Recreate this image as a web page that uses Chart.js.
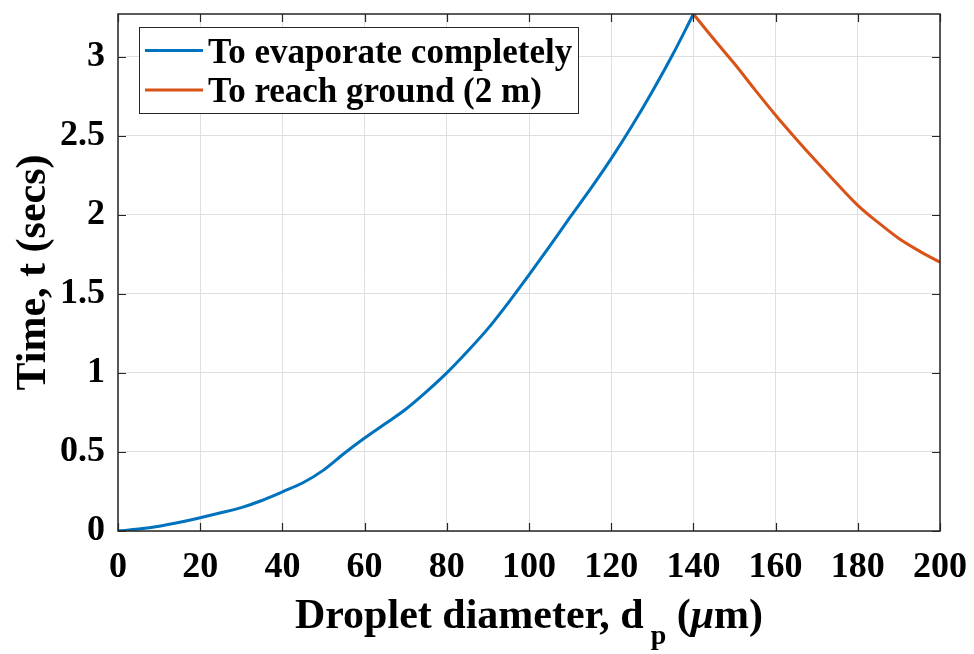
<!DOCTYPE html>
<html>
<head>
<meta charset="utf-8">
<script src="https://cdn.jsdelivr.net/npm/chart.js@4"></script>
<style>
  html, body { margin: 0; padding: 0; background: #fff; }
  #wrap { width: 974px; height: 654px; }
</style>
</head>
<body>
<div id="wrap"><canvas id="timeChart" width="974" height="654"></canvas></div>
<script>
// droplet diameter (um) and times (s)
const evapDiam = [0, 5, 10, 15, 20, 25, 30, 35, 40, 45, 50, 55, 60, 65, 70, 75, 80, 85, 90, 95, 100, 105, 110, 115, 120, 125, 130, 135, 140];
const evapTime = [0, 0.012, 0.03, 0.055, 0.084, 0.115, 0.148, 0.193, 0.248, 0.305, 0.385, 0.49, 0.588, 0.678, 0.77, 0.88, 1.0, 1.135, 1.28, 1.445, 1.62, 1.80, 1.985, 2.165, 2.355, 2.56, 2.78, 3.015, 3.27];
const groundDiam = [140, 145, 150, 155, 160, 165, 170, 175, 180, 185, 190, 195, 200];
const groundTime = [3.27, 3.11, 2.955, 2.79, 2.63, 2.48, 2.335, 2.195, 2.06, 1.95, 1.85, 1.77, 1.70];
const xTicks = [0, 20, 40, 60, 80, 100, 120, 140, 160, 180, 200];
const yTicks = [0, 0.5, 1, 1.5, 2, 2.5, 3];

const SERIF = '"Liberation Serif", "Times New Roman", serif';
const AXIS_COLOR = '#262626';

function toPoints(xs, ys) {
    return xs.map((x, i) => ({ x: x, y: ys[i] }));
}

// Box, inward ticks, custom axis titles and the in-plot legend (MATLAB look)
const matlabFrame = {
    id: 'matlabFrame',
    afterDraw(chart) {
        const ctx = chart.ctx;
        const a = chart.chartArea;
        const xs = chart.scales.x, ys = chart.scales.y;
        ctx.save();
        ctx.strokeStyle = AXIS_COLOR;
        ctx.lineWidth = 1.5;
        ctx.strokeRect(a.left, a.top, a.right - a.left, a.bottom - a.top);

        const tl = 8;
        ctx.beginPath();
        xTicks.forEach(v => {
            const px = Math.round(xs.getPixelForValue(v)) + 0.5;
            ctx.moveTo(px, a.bottom); ctx.lineTo(px, a.bottom - tl);
            ctx.moveTo(px, a.top); ctx.lineTo(px, a.top + tl);
        });
        yTicks.forEach(v => {
            const py = Math.round(ys.getPixelForValue(v)) + 0.5;
            ctx.moveTo(a.left, py); ctx.lineTo(a.left + tl, py);
            ctx.moveTo(a.right, py); ctx.lineTo(a.right - tl, py);
        });
        ctx.lineWidth = 1.2;
        ctx.stroke();

        // x title with subscript p and italic mu
        ctx.fillStyle = '#000';
        ctx.textBaseline = 'alphabetic';
        const big = 'bold 42px ' + SERIF, small = 'bold 28px ' + SERIF, ital = 'italic bold 42px ' + SERIF;
        const parts = [
            { t: 'Droplet diameter, d', f: big, dy: 0 },
            { t: ' ', f: small, dy: 0 },
            { t: 'p', f: small, dy: 16 },
            { t: ' (', f: big, dy: 0 },
            { t: '\u03bc', f: ital, dy: 0 },
            { t: 'm)', f: big, dy: 0 }
        ];
        let total = 0;
        parts.forEach(p => { ctx.font = p.f; p.w = ctx.measureText(p.t).width; total += p.w; });
        let cx = (a.left + a.right) / 2 - total / 2;
        const base = 628;
        parts.forEach(p => {
            ctx.font = p.f;
            ctx.textAlign = 'left';
            ctx.fillText(p.t, cx, base + p.dy);
            cx += p.w;
        });

        // y title
        ctx.save();
        ctx.translate(45, (a.top + a.bottom) / 2);
        ctx.rotate(-Math.PI / 2);
        ctx.font = big;
        ctx.textAlign = 'center';
        ctx.fillText('Time, t (secs)', 0, 0);
        ctx.restore();

        // legend
        const lx = 139, ly = 27, lw = 439, lh = 86;
        ctx.fillStyle = '#fff';
        ctx.fillRect(lx, ly, lw, lh);
        ctx.strokeStyle = AXIS_COLOR;
        ctx.lineWidth = 1;
        ctx.strokeRect(lx + 0.5, ly + 0.5, lw, lh);
        const rowY = [50.5, 90];
        chart.data.datasets.forEach((ds, i) => {
            ctx.strokeStyle = ds.borderColor;
            ctx.lineWidth = 3;
            ctx.beginPath();
            ctx.moveTo(145, rowY[i]); ctx.lineTo(203, rowY[i]);
            ctx.stroke();
            ctx.fillStyle = '#000';
            ctx.font = 'bold 35px ' + SERIF;
            ctx.textAlign = 'left';
            ctx.fillText(ds.label, 208, rowY[i] + 12);
        });
        ctx.restore();
    }
};

new Chart(document.getElementById('timeChart').getContext('2d'), {
    type: 'line',
    data: {
        datasets: [{
            label: 'To evaporate completely',
            data: toPoints(evapDiam, evapTime),
            borderColor: '#0072BD',
            borderWidth: 3,
            pointRadius: 0,
            cubicInterpolationMode: 'monotone',
            fill: false
        }, {
            label: 'To reach ground (2 m)',
            data: toPoints(groundDiam, groundTime),
            borderColor: '#D95319',
            borderWidth: 3,
            pointRadius: 0,
            cubicInterpolationMode: 'monotone',
            fill: false
        }]
    },
    options: {
        responsive: false,
        animation: false,
        layout: { padding: { top: 14, right: 34, left: 0, bottom: 0 } },
        plugins: {
            legend: { display: false },
            tooltip: { enabled: false }
        },
        scales: {
            x: {
                type: 'linear',
                min: 0,
                max: 200,
                afterBuildTicks: s => { s.ticks = xTicks.map(v => ({ value: v })); },
                afterFit: s => { s.height = 123; s.paddingLeft = 0; s.paddingRight = 0; },
                grid: { color: '#dfdfdf', drawTicks: false },
                border: { display: false },
                ticks: {
                    color: '#000',
                    padding: 15,
                    maxRotation: 0,
                    callback: v => String(v),
                    font: { family: SERIF, size: 36, weight: 'bold' }
                }
            },
            y: {
                type: 'linear',
                min: 0,
                max: 3.27,
                afterBuildTicks: s => { s.ticks = yTicks.map(v => ({ value: v })); },
                afterFit: s => { s.width = 118; s.paddingTop = 0; s.paddingBottom = 0; },
                grid: { color: '#dfdfdf', drawTicks: false },
                border: { display: false },
                ticks: {
                    color: '#000',
                    padding: 13,
                    callback: v => String(v),
                    font: { family: SERIF, size: 36, weight: 'bold' }
                }
            }
        }
    },
    plugins: [matlabFrame]
});
</script>
</body>
</html>
